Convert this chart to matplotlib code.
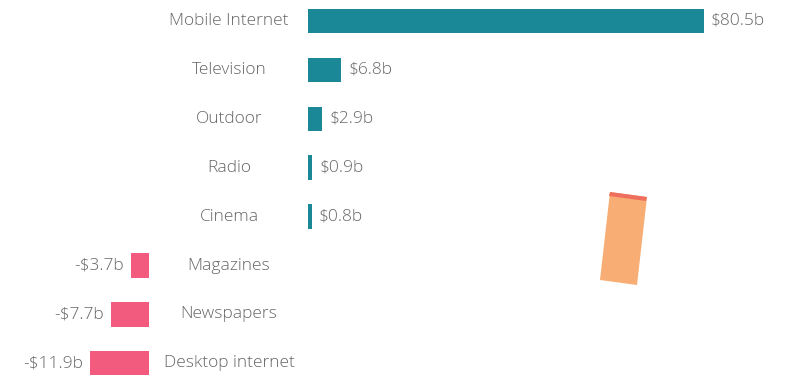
import matplotlib.pyplot as plt
from matplotlib.patches import Polygon

# Change in ad spend by medium, billions of dollars
gainers = ["Mobile Internet", "Television", "Outdoor", "Radio", "Cinema"]
gain_values = [80.5, 6.8, 2.9, 0.9, 0.8]
losers = ["Magazines", "Newspapers", "Desktop internet"]
loss_values = [-3.7, -7.7, -11.9]

teal = "#1b8898"
pink = "#f25a7e"
text_color = "#666666"
fsize = 12.5

plt.rcParams["font.family"] = ["Open Sans", "DejaVu Sans"]

fig = plt.figure(figsize=(7.88, 3.75), dpi=100)
ax = fig.add_axes([0, 0, 1, 1])

px = 4.92                      # pixels per billion
xmin, xmax = -308 / px, (788 - 308) / px
neg_zero = (149 - 308) / px    # baseline for the losing media
label_x = (229 - 308) / px     # centre of the category names
gap = 7 / px

n_gain = len(gainers)
rows_gain = list(range(n_gain))
rows_loss = list(range(n_gain, n_gain + len(losers)))

ax.barh(rows_gain, gain_values, height=0.5, color=teal)
for y, v, name in zip(rows_gain, gain_values, gainers):
    ax.text(v + gap, y, f"${v}b", ha="left", va="center", fontsize=fsize,
            fontweight="light", color=text_color)
    ax.text(label_x, y, name, ha="center", va="center", fontsize=fsize,
            fontweight="light", color=text_color)

ax.barh(rows_loss, [-v for v in loss_values], left=[neg_zero + v for v in loss_values],
        height=0.5, color=pink)
for y, v, name in zip(rows_loss, loss_values, losers):
    ax.text(neg_zero + v - gap, y, f"-${-v}b", ha="right", va="center", fontsize=fsize,
            fontweight="light", color=text_color)
    ax.text(label_x, y, name, ha="center", va="center", fontsize=fsize,
            fontweight="light", color=text_color)

row_px = 48.9
ax.set_xlim(xmin, xmax)
ax.set_ylim((375 - 21) / row_px, -21 / row_px)
ax.axis("off")

# tilted orange sticker on the right
sticker = Polygon([(610 / 788, 1 - 192 / 375), (647 / 788, 1 - 197 / 375),
                   (637 / 788, 1 - 285 / 375), (600 / 788, 1 - 280 / 375)],
                  closed=True, transform=fig.transFigure, facecolor="#f7ad74", edgecolor="none")
fig.patches.append(sticker)
top_edge = Polygon([(610 / 788, 1 - 192 / 375), (647 / 788, 1 - 197 / 375),
                    (646 / 788, 1 - 201 / 375), (609 / 788, 1 - 196 / 375)],
                   closed=True, transform=fig.transFigure, facecolor="#ef6f5e", edgecolor="none")
fig.patches.append(top_edge)

fig.savefig("out.png", dpi=100)
